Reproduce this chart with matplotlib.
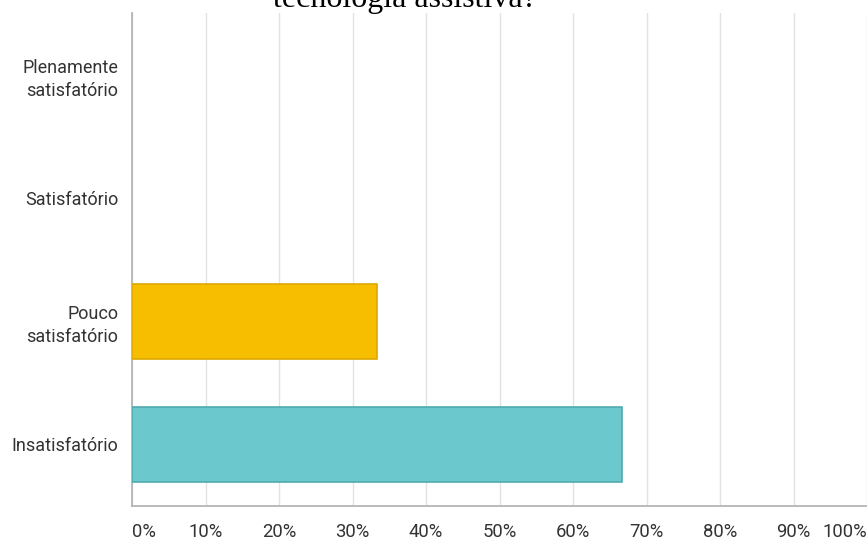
import matplotlib
matplotlib.use("Agg")
import matplotlib.pyplot as plt

categories = ["Plenamente\nsatisfatório", "Satisfatório", "Pouco\nsatisfatório", "Insatisfatório"]
values = [0.0, 0.0, 33.33, 66.67]
colors = ["#4FA9D8", "#F16A5B", "#F7BE00", "#6BC8CC"]
edges = ["#3F8FB8", "#D0584A", "#DDA800", "#50AAAE"]
xticks = [0, 10, 20, 30, 40, 50, 60, 70, 80, 90, 100]
xticklabels = [f"{t}%" for t in xticks]

W, H = 867, 543
fig = plt.figure(figsize=(W / 100, H / 100), dpi=100)
left, right, top, bottom = 132, 867, 13, 506
ax = fig.add_axes([left / W, 1 - bottom / H, (right - left) / W, (bottom - top) / H])

ypos = list(range(len(categories)))
for y, v, c, e in zip(ypos, values, colors, edges):
    if v > 0:
        ax.barh(y, v, height=0.61, color=c, edgecolor=e, linewidth=1.2, zorder=3)

ax.set_xlim(0, 100)
ax.set_ylim(len(categories) - 0.5, -0.5)
ax.set_yticks(ypos)
ax.set_yticklabels(categories, fontsize=13, family="Roboto", color="#333333", linespacing=1.35)
ax.set_xticks(xticks)
ax.set_xticklabels(xticklabels, fontsize=13.3, family="Roboto", color="#333333")
labels = ax.get_xticklabels()
labels[0].set_horizontalalignment("left")
labels[-1].set_horizontalalignment("right")
ax.tick_params(axis="both", length=0)
ax.tick_params(axis="y", pad=10)
ax.tick_params(axis="x", pad=12)
ax.grid(axis="x", color="#E2E2E2", linewidth=1.0, zorder=0)
for s in ["top", "right"]:
    ax.spines[s].set_visible(False)
for s in ["left", "bottom"]:
    ax.spines[s].set_color("#B5B5B5")
    ax.spines[s].set_linewidth(1.3)

fig.text(405 / W, 1 - 7 / H, "tecnologia assistiva?", ha="center", va="baseline",
         fontsize=23, family="Liberation Serif", color="#000000")

fig.savefig("out.png", dpi=100)
